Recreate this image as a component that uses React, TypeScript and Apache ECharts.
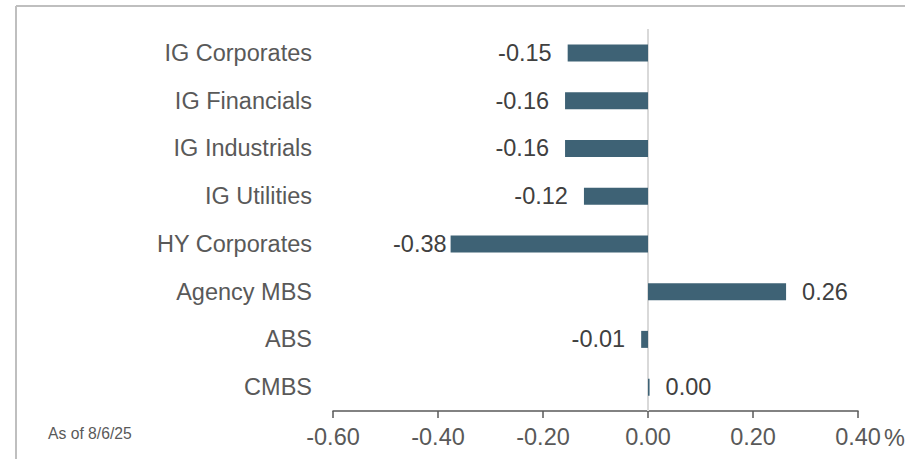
import React, { useEffect, useRef } from "react";
import * as echarts from "echarts";

const categories = [
  "IG Corporates",
  "IG Financials",
  "IG Industrials",
  "IG Utilities",
  "HY Corporates",
  "Agency MBS",
  "ABS",
  "CMBS",
];
const values = [-0.153, -0.158, -0.158, -0.122, -0.376, 0.263, -0.013, 0.003];
const xTicks = { min: -0.6, max: 0.4, interval: 0.2 };
const footnote = "As of 8/6/25";
const unitLabel = "%";

const FONT = "'Liberation Sans', Arial, sans-serif";
const GRAY = "#595959";
const BAR = "#3e6275";

export default function App() {
  const ref = useRef<HTMLDivElement>(null);
  useEffect(() => {
    if (!ref.current) return;
    const chart = echarts.init(ref.current, undefined, { renderer: "svg" });
    const data = values.map((v, i) => ({
      value: v,
      label: {
        position: v < 0 ? "left" : "right",
        distance: categories[i] === "HY Corporates" ? 4 : 16,
      },
    }));
    chart.setOption({
      animation: false,
      backgroundColor: "#ffffff",
      textStyle: { fontFamily: FONT },
      grid: { left: 333, right: 47, top: 29, bottom: 48, containLabel: false },
      xAxis: {
        type: "value",
        min: xTicks.min,
        max: xTicks.max,
        interval: xTicks.interval,
        axisLine: { show: true, lineStyle: { color: GRAY, width: 1.5 } },
        axisTick: { show: true, length: 7, lineStyle: { color: GRAY, width: 1.5 } },
        splitLine: { show: false },
        axisLabel: {
          color: GRAY,
          fontSize: 23.5,
          fontFamily: FONT,
          margin: 14,
          formatter: (v: number) => v.toFixed(2),
        },
      },
      yAxis: {
        type: "category",
        data: categories,
        inverse: true,
        axisLine: { show: false },
        axisTick: { show: false },
        splitLine: { show: false },
        axisLabel: { color: GRAY, fontSize: 23.5, fontFamily: FONT, margin: 21 },
      },
      series: [
        {
          type: "bar",
          data,
          barWidth: 17,
          itemStyle: { color: BAR },
          label: {
            show: true,
            color: "#404040",
            fontSize: 23.5,
            fontFamily: FONT,
            formatter: (p: any) => Number(p.value).toFixed(2),
          },
          markLine: {
            silent: true,
            symbol: "none",
            label: { show: false },
            lineStyle: { color: "#d9d9d9", width: 2, type: "solid" },
            data: [{ xAxis: 0 }],
            z: 1,
          },
          z: 3,
        },
      ],
      graphic: [
        {
          type: "line",
          shape: { x1: 16, y1: 6, x2: 905, y2: 6 },
          style: { stroke: "#bfbfbf", lineWidth: 2 },
        },
        {
          type: "line",
          shape: { x1: 16, y1: 6, x2: 16, y2: 459 },
          style: { stroke: "#bfbfbf", lineWidth: 2 },
        },
        {
          type: "text",
          left: 48,
          top: 425,
          style: { text: footnote, fill: GRAY, fontSize: 15.7, fontFamily: FONT },
        },
        {
          type: "text",
          left: 884,
          top: 426,
          style: { text: unitLabel, fill: GRAY, fontSize: 23.5, fontFamily: FONT },
        },
      ],
    });
    return () => chart.dispose();
  }, []);
  return (
    <div
      ref={ref}
      style={{ position: "fixed", left: 0, top: 0, width: 905, height: 459 }}
    />
  );
}
